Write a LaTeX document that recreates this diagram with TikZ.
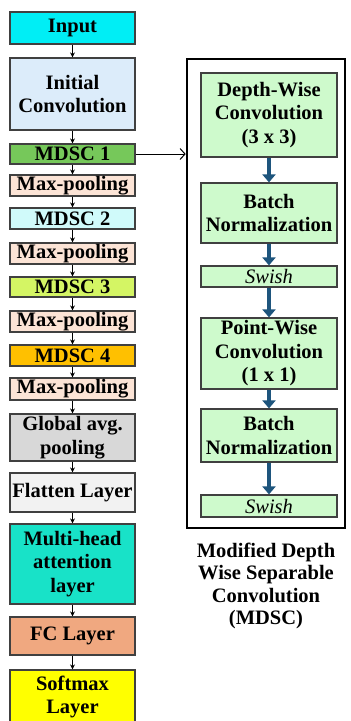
\documentclass[tikz,border=0pt]{standalone}
\usepackage{fontspec}
\setmainfont{Liberation Serif}
\usetikzlibrary{arrows.meta}

\definecolor{cInput}{RGB}{0,238,245}
\definecolor{cInit}{RGB}{220,236,250}
\definecolor{cMone}{RGB}{118,200,90}
\definecolor{cPool}{RGB}{252,228,214}
\definecolor{cMtwo}{RGB}{208,250,250}
\definecolor{cMthree}{RGB}{212,245,100}
\definecolor{cMfour}{RGB}{255,192,0}
\definecolor{cGap}{RGB}{216,216,216}
\definecolor{cFlat}{RGB}{242,242,242}
\definecolor{cMha}{RGB}{24,226,200}
\definecolor{cFc}{RGB}{240,168,128}
\definecolor{cSoft}{RGB}{255,255,0}
\definecolor{cMint}{RGB}{206,250,204}
\definecolor{cEdge}{RGB}{64,64,64}
\definecolor{cBlue}{RGB}{30,85,125}

% block from its corners: name, x1, y1, x2, y2, style, text
\newcommand\blk[7]{%
  \node[#6, minimum width={(#4)-(#2)}, minimum height={(#5)-(#3)}]
    (#1) at ({((#2)+(#4))/2},{((#3)+(#5))/2}) {#7};}

\begin{document}
\begin{tikzpicture}[x=1pt,y=-1pt,
  box/.style={draw=cEdge, line width=1.2pt, inner sep=0pt, align=center,
    font=\fontsize{20.5}{23.5}\selectfont\bfseries},
  inbox/.style={box, fill=cMint},
  framebox/.style={draw=black, line width=2.6pt, inner sep=0pt},
  flow/.style={-{Stealth[length=5pt,width=5pt]}, line width=0.9pt},
  link/.style={-{Straight Barb[length=5pt,width=11pt]}, line width=1pt},
  bflow/.style={-{Triangle[length=8pt,width=13pt]}, line width=4.5pt, draw=cBlue},
  sw/.style={font=\fontsize{20.5}{23.5}\selectfont\mdseries\itshape}
]
\useasboundingbox[fill=white] (0,0) rectangle (351,721);

% main pipeline
\blk{input}{10}{12}{135}{44}{box, fill=cInput}{Input}
\blk{init}{10}{58}{135}{130}{box, fill=cInit}{Initial\\Convolution}
\blk{mone}{10}{144}{135}{164}{box, fill=cMone}{MDSC 1}
\blk{pone}{10}{175}{135}{196}{box, fill=cPool}{Max-pooling}
\blk{mtwo}{10}{208}{135}{229}{box, fill=cMtwo}{MDSC 2}
\blk{ptwo}{10}{243}{135}{264}{box, fill=cPool}{Max-pooling}
\blk{mthree}{10}{277}{135}{297}{box, fill=cMthree}{MDSC 3}
\blk{pthree}{10}{311}{135}{332}{box, fill=cPool}{Max-pooling}
\blk{mfour}{10}{345}{135}{366}{box, fill=cMfour}{MDSC 4}
\blk{pfour}{10}{378}{135}{400}{box, fill=cPool}{Max-pooling}
\blk{gap}{10}{414}{135}{461}{box, fill=cGap}{Global avg.\\pooling}
\blk{flat}{10}{473}{135}{512}{box, fill=cFlat}{Flatten Layer}
\blk{mha}{10}{524}{135}{604}{box, fill=cMha}{Multi-head\\attention\\layer}
\blk{fc}{10}{617}{135}{655}{box, fill=cFc}{FC Layer}
\blk{soft}{10}{670}{135}{724}{box, fill=cSoft}{Softmax\\Layer}

\foreach \a/\b in {input/init, init/mone, mone/pone, pone/mtwo, mtwo/ptwo,
    ptwo/mthree, mthree/pthree, pthree/mfour, mfour/pfour, pfour/gap,
    gap/flat, flat/mha, mha/fc, fc/soft}
  \draw[flow] (\a) -- (\b);

% MDSC block detail
\blk{frame}{187}{59}{345}{528}{framebox}{}
\blk{dw}{201}{73}{337}{157}{inbox}{Depth-Wise\\Convolution\\(3 x 3)}
\blk{bnone}{201}{183}{337}{243}{inbox}{Batch\\Normalization}
\blk{swone}{201}{266}{337}{287}{inbox, sw}{Swish}
\blk{pw}{201}{318}{337}{389}{inbox}{Point-Wise\\Convolution\\(1 x 1)}
\blk{bntwo}{201}{409}{337}{462}{inbox}{Batch\\Normalization}
\blk{swtwo}{201}{495}{337}{517}{inbox, sw}{Swish}

\foreach \a/\b in {dw/bnone, bnone/swone, swone/pw, pw/bntwo, bntwo/swtwo}
  \draw[bflow] (\a) -- (\b);

\draw[link] (mone.east) -- (mone.east -| frame.west);

\node[align=center, inner sep=0pt, font=\fontsize{20.5}{22.5}\selectfont\bfseries]
  (cap) at (266,586) {Modified Depth\\Wise Separable\\Convolution\\(MDSC)};
\end{tikzpicture}
\end{document}
